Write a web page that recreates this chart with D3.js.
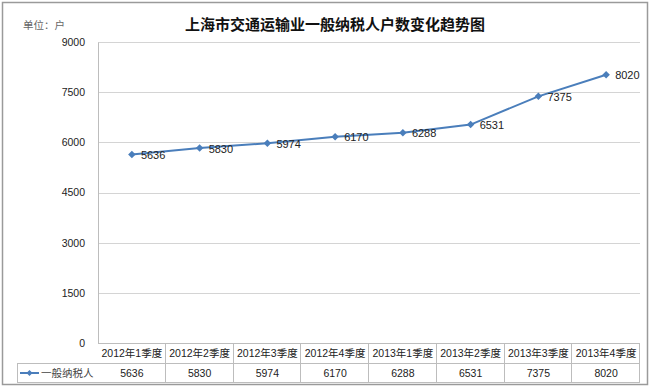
<!DOCTYPE html>
<html>
<head>
<meta charset="utf-8">
<script src="https://cdn.jsdelivr.net/npm/d3@7"></script>
<style>
  body { margin: 0; background: #fff; }
  svg text { font-family: "Liberation Sans", "Noto Sans CJK SC", sans-serif; }
</style>
</head>
<body>
<div id="chart"></div>
<script>
// chart data
let quarters = ["2012年1季度", "2012年2季度", "2012年3季度", "2012年4季度",
                "2013年1季度", "2013年2季度", "2013年3季度", "2013年4季度"];
let taxpayers = [5636, 5830, 5974, 6170, 6288, 6531, 7375, 8020];
let yTicks = [0, 1500, 3000, 4500, 6000, 7500, 9000];
let seriesName = "一般纳税人";
let title = "上海市交通运输业一般纳税人户数变化趋势图";
let unitLabel = "单位：户";

let W = 650, H = 387;
let margin = { top: 42, right: 10, bottom: 44, left: 98 };
let plotW = W - margin.left - margin.right;
let plotH = H - margin.top - margin.bottom;
let blue = "#4a7ebb";
let rowH = 20;

let svg = d3.select("#chart").append("svg")
  .attr("width", W)
  .attr("height", H);

// outer frame
svg.append("rect")
  .attr("x", 2.5).attr("y", 2.5)
  .attr("width", 645).attr("height", 382)
  .attr("fill", "none")
  .attr("stroke", "#9a9a9a")
  .attr("stroke-width", 1.5);

svg.append("text")
  .attr("x", 335).attr("y", 30)
  .attr("text-anchor", "middle")
  .style("font-family", "'Noto Sans CJK SC', sans-serif")
  .style("font-size", "15px")
  .style("font-weight", "bold")
  .attr("fill", "#111")
  .text(title);

svg.append("text")
  .attr("x", 23).attr("y", 29)
  .style("font-family", "'Noto Sans CJK SC', sans-serif")
  .style("font-size", "10.5px")
  .attr("fill", "#666")
  .text(unitLabel);

let g = svg.append("g")
  .attr("transform", `translate(${margin.left},${margin.top})`);

let x = d3.scaleBand().domain(quarters).range([0, plotW]);
let y = d3.scaleLinear().domain([0, 9000]).range([plotH, 0]);

// gridlines
g.selectAll(".grid")
  .data(yTicks.filter(d => d > 0))
  .enter().append("line")
  .attr("x1", 0).attr("x2", plotW)
  .attr("y1", d => Math.round(y(d)) + 0.5)
  .attr("y2", d => Math.round(y(d)) + 0.5)
  .attr("stroke", "#d4d4d4");

// y axis
let yAxis = g.append("g")
  .call(d3.axisLeft(y).tickValues(yTicks).tickFormat(d3.format("d")).tickSize(0).tickPadding(13));
yAxis.select(".domain").attr("stroke", "#bdbdbd");
yAxis.selectAll("text")
  .style("font-size", "10.5px")
  .attr("fill", "#222");

// data table
let table = g.append("g").attr("transform", `translate(0,${plotH})`);
let tableLeft = 17 - margin.left;

table.append("line")
  .attr("x1", 0).attr("x2", plotW)
  .attr("y1", 0.5).attr("y2", 0.5)
  .attr("stroke", "#bdbdbd");
table.append("line")
  .attr("x1", tableLeft).attr("x2", plotW)
  .attr("y1", rowH + 0.5).attr("y2", rowH + 0.5)
  .attr("stroke", "#bdbdbd");
table.append("line")
  .attr("x1", tableLeft).attr("x2", plotW)
  .attr("y1", 2 * rowH - 0.5).attr("y2", 2 * rowH - 0.5)
  .attr("stroke", "#bdbdbd");
table.append("line")
  .attr("x1", tableLeft + 0.5).attr("x2", tableLeft + 0.5)
  .attr("y1", rowH).attr("y2", 2 * rowH)
  .attr("stroke", "#bdbdbd");

table.selectAll(".sep")
  .data(quarters)
  .enter().append("line")
  .attr("x1", d => Math.round(x(d) + x.bandwidth()) - 0.5)
  .attr("x2", d => Math.round(x(d) + x.bandwidth()) - 0.5)
  .attr("y1", 0).attr("y2", 2 * rowH)
  .attr("stroke", "#bdbdbd");

table.selectAll(".qlabel")
  .data(quarters)
  .enter().append("text")
  .attr("x", d => x(d) + x.bandwidth() / 2)
  .attr("y", rowH / 2 + 4)
  .attr("text-anchor", "middle")
  .style("font-size", "10.5px")
  .attr("fill", "#222")
  .text(d => d);

table.selectAll(".vlabel")
  .data(taxpayers)
  .enter().append("text")
  .attr("x", (d, i) => x(quarters[i]) + x.bandwidth() / 2)
  .attr("y", rowH * 1.5 + 4)
  .attr("text-anchor", "middle")
  .style("font-size", "10.5px")
  .attr("fill", "#222")
  .text(d => d);

// diamond = square turned 45 degrees
let diamond = size => d3.symbol(d3.symbolSquare, size)();

// legend key in table
table.append("line")
  .attr("x1", tableLeft + 3).attr("x2", tableLeft + 22)
  .attr("y1", rowH * 1.5).attr("y2", rowH * 1.5)
  .attr("stroke", blue).attr("stroke-width", 2);
table.append("path")
  .attr("d", diamond(18))
  .attr("transform", `translate(${tableLeft + 12.5},${rowH * 1.5}) rotate(45)`)
  .attr("fill", blue);
table.append("text")
  .attr("x", tableLeft + 24)
  .attr("y", rowH * 1.5 + 4)
  .style("font-family", "'Noto Sans CJK SC', sans-serif")
  .style("font-size", "10.5px")
  .attr("fill", "#444")
  .text(seriesName);

// series line
let line = d3.line()
  .x((d, i) => x(quarters[i]) + x.bandwidth() / 2)
  .y(d => y(d));

g.append("path")
  .datum(taxpayers)
  .attr("d", line)
  .attr("fill", "none")
  .attr("stroke", blue)
  .attr("stroke-width", 2);

g.selectAll(".marker")
  .data(taxpayers)
  .enter().append("path")
  .attr("d", diamond(28))
  .attr("transform", (d, i) => `translate(${x(quarters[i]) + x.bandwidth() / 2},${y(d)}) rotate(45)`)
  .attr("fill", blue);

g.selectAll(".dlabel")
  .data(taxpayers)
  .enter().append("text")
  .attr("x", (d, i) => x(quarters[i]) + x.bandwidth() / 2 + 9)
  .attr("y", d => y(d) + 4.5)
  .style("font-size", "11px")
  .attr("fill", "#222")
  .text(d => d);
</script>
</body>
</html>
